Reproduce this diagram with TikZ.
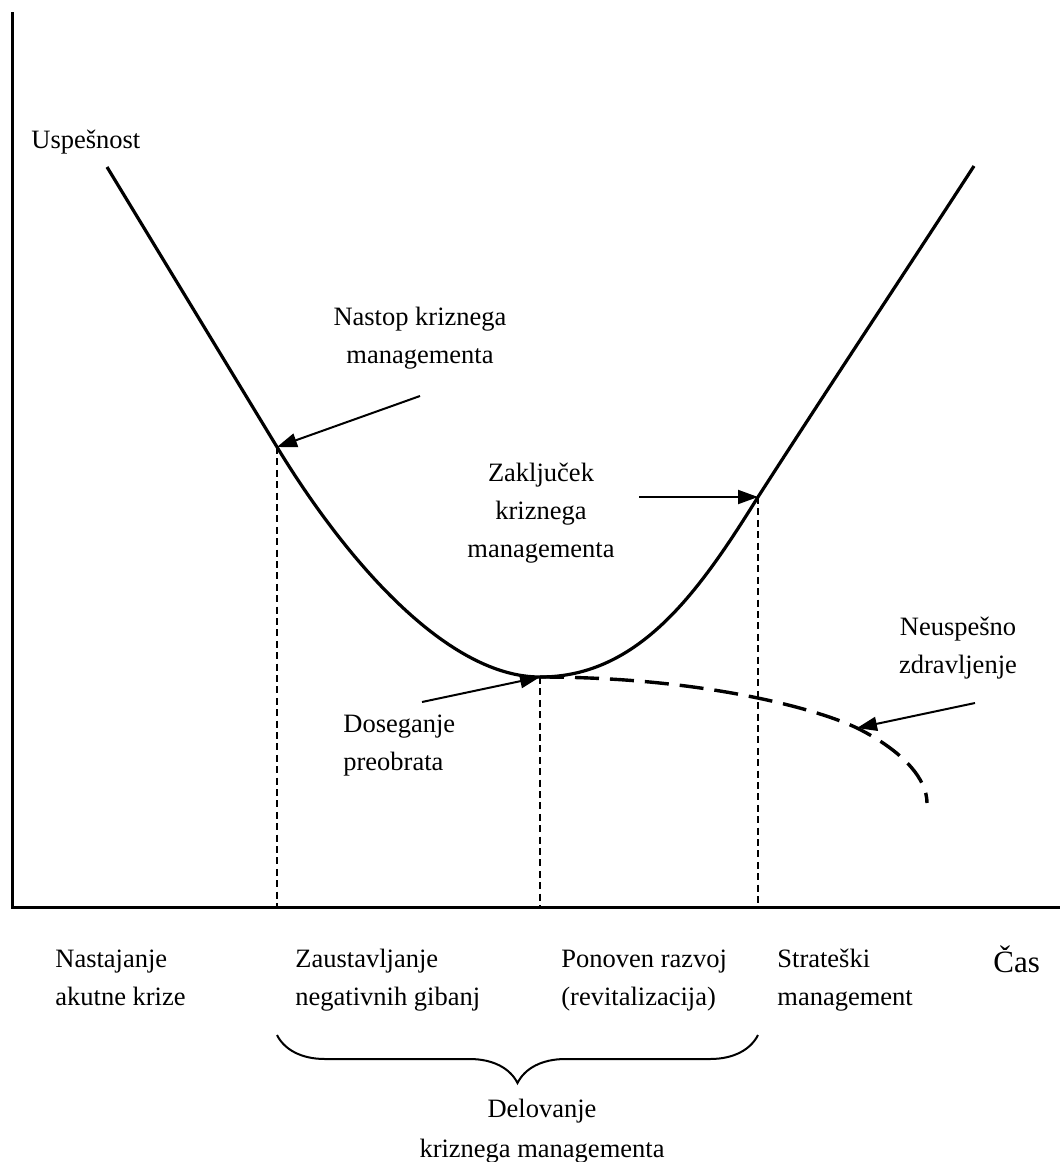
\documentclass[tikz,border=0pt]{standalone}
\usepackage{fontspec}
\setmainfont{Liberation Serif}
\usetikzlibrary{arrows.meta,decorations.pathreplacing}
\tikzset{
  axisline/.style={draw=black, line width=1.5pt},
  curveline/.style={draw=black, line width=1.6pt},
  failline/.style={draw=black, line width=1.7pt, dash pattern=on 12pt off 5.5pt},
  guideline/.style={draw=black, line width=0.7pt, dash pattern=on 3.5pt off 2.2pt},
  pointer/.style={draw=black, line width=1pt, -{Triangle[length=10pt,width=7pt]}},
  lab/.style={font=\fontsize{13.25}{19}\selectfont, inner sep=0pt, align=center, anchor=base},
  labl/.style={lab, align=left, anchor=base west},
}

\begin{document}
\begin{tikzpicture}[x=0.5pt,y=-0.5pt]
  \useasboundingbox (0,0) rectangle (1060,1162);
  \coordinate (top) at (12,12);
  \coordinate (O) at (12,907);
  \coordinate (end) at (1060,907);

  % points on the curve
  \coordinate (start) at (107,167);
  \coordinate (nastop) at (277,447);
  \coordinate (preobrat) at (540,677);
  \coordinate (zakljucek) at (758,497);
  \coordinate (stop) at (974,166);
  \coordinate (neuspeh) at (857,728);
  \coordinate (dno) at (927,803);

  % arrow tails
  \coordinate (nastopfrom) at (420,396);
  \coordinate (zakljucekfrom) at (639,497);
  \coordinate (preobratfrom) at (422,702);
  \coordinate (neuspehfrom) at (975,703);

  \draw[axisline] (top) -- (O) -- (end);

  \draw[guideline] (nastop) -- (nastop |- O);
  \draw[guideline] (preobrat) -- (preobrat |- O);
  \draw[guideline] (zakljucek) -- (zakljucek |- O);

  \draw[curveline] (start) -- (nastop)
    .. controls (350,567) and (450,677) .. (preobrat)
    .. controls (640,677) and (700,590) .. (zakljucek)
    .. controls (830,385) and (900,280) .. (stop);
  \draw[failline] (preobrat) .. controls (700,677) and (815,708) .. (neuspeh)
    .. controls (905,752) and (927,780) .. (dno);

  \draw[pointer] (nastopfrom) -- (nastop);
  \draw[pointer] (zakljucekfrom) -- (zakljucek);
  \draw[pointer] (preobratfrom) -- (preobrat);
  \draw[pointer] (neuspehfrom) -- (neuspeh);

  % labels sit on the baseline of their last line
  \node[labl] (uspesnost) at (31,148) {Uspešnost};
  \node[lab] (nastoplab) at (420,363) {Nastop kriznega\\managementa};
  \node[lab] (zakljuceklab) at (541,557) {Zaključek\\kriznega\\managementa};
  \node[labl] (preobratlab) at (343,770) {Doseganje\\preobrata};
  \node[lab] (neuspehlab) at (958,673) {Neuspešno\\zdravljenje};

  \node[labl] (faza1) at (55,1005) {Nastajanje\\akutne krize};
  \node[labl] (faza2) at (295,1005) {Zaustavljanje\\negativnih gibanj};
  \node[labl] (faza3) at (561,1005) {Ponoven razvoj\\(revitalizacija)};
  \node[labl] (faza4) at (777,1005) {Strateški\\management};
  \node[labl, font=\fontsize{15.5}{19}\selectfont] (cas) at (993,972) {Čas};

  \draw[line width=1pt, decorate, decoration={brace, mirror, amplitude=24pt}]
    (nastop |- 0,1035) -- (zakljucek |- 0,1035);
  \node[lab, font=\fontsize{13.25}{20}\selectfont] (delovanje) at (542,1157) {Delovanje\\kriznega managementa};
\end{tikzpicture}
\end{document}
